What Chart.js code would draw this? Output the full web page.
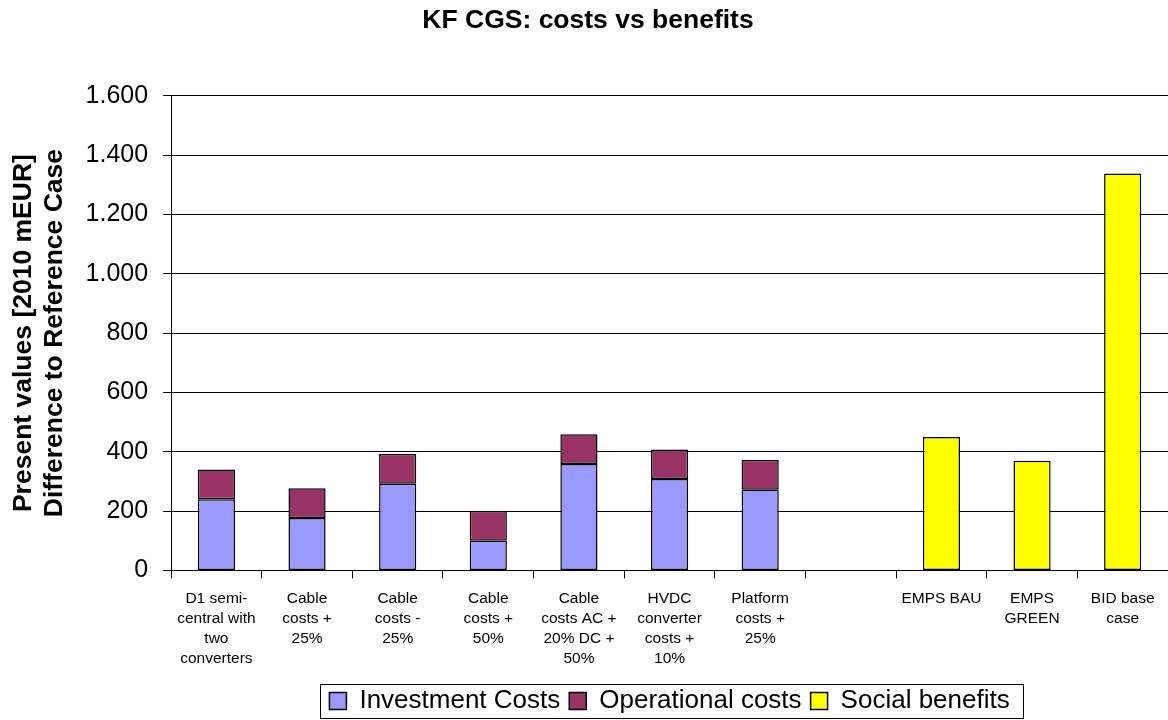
<!DOCTYPE html>
<html>
<head>
<meta charset="utf-8">
<script src="https://cdn.jsdelivr.net/npm/chart.js@4/dist/chart.umd.min.js"></script>
<style>
  html, body { margin: 0; padding: 0; background: #fff; }
  #wrap { width: 1168px; height: 720px; }
</style>
</head>
<body>
<div id="wrap"><canvas id="kfChart" width="1168" height="720"></canvas></div>
<script>
// categories (x axis), multi-line as in the original sheet
var categories = [
    ['D1 semi-', 'central with', 'two', 'converters'],
    ['Cable', 'costs +', '25%'],
    ['Cable', 'costs -', '25%'],
    ['Cable', 'costs +', '50%'],
    ['Cable', 'costs AC +', '20% DC +', '50%'],
    ['HVDC', 'converter', 'costs +', '10%'],
    ['Platform', 'costs +', '25%'],
    '',
    ['EMPS BAU'],
    ['EMPS', 'GREEN'],
    ['BID base', 'case']
];

// values in 2010 mEUR
var investmentCosts  = [240, 177, 292, 100, 359, 308, 272, null, null, null, null];
var operationalCosts = [100, 100, 100, 100, 100, 100, 100, null, null, null, null];
var socialBenefits   = [null, null, null, null, null, null, null, null, 450, 370, 1338];

var yTicks = { min: 0, max: 1600, step: 200 };

function fmt(v) {
    // 1600 -> "1.600"
    return String(v).replace(/\B(?=(\d{3})+(?!\d))/g, '.');
}

// draws the box round the legend like excel does
var legendFrame = {
    id: 'legendFrame',
    afterDraw: function(chart) {
        var boxes = chart.legend && chart.legend.legendHitBoxes;
        if (!boxes || !boxes.length) return;
        var l = Infinity, r = -Infinity, cy = 0;
        boxes.forEach(function(b) {
            l = Math.min(l, b.left);
            r = Math.max(r, b.left + b.width);
            cy += b.top + b.height / 2;
        });
        cy = cy / boxes.length;
        var ctx = chart.ctx;
        ctx.save();
        ctx.strokeStyle = '#000';
        ctx.lineWidth = 1;
        ctx.strokeRect(Math.round(l - 9) + 0.5, Math.round(cy - 17) + 0.5, Math.round(r - l + 23), 34);
        ctx.restore();
    }
};

Chart.defaults.font.family = '"Liberation Sans", Arial, sans-serif';
Chart.defaults.color = '#000';

var ctx = document.getElementById('kfChart').getContext('2d');
var chart = new Chart(ctx, {
    type: 'bar',
    data: {
        labels: categories,
        datasets: [{
            label: 'Investment Costs',
            data: investmentCosts,
            backgroundColor: '#9999FF',
            borderColor: '#000',
            borderWidth: 1.5,
            borderSkipped: false
        }, {
            label: 'Operational costs',
            data: operationalCosts,
            backgroundColor: '#993366',
            borderColor: '#000',
            borderWidth: 1.5,
            borderSkipped: false
        }, {
            label: 'Social benefits',
            data: socialBenefits,
            backgroundColor: '#FFFF00',
            borderColor: '#000',
            borderWidth: 1.5,
            borderSkipped: false
        }]
    },
    options: {
        responsive: false,
        animation: false,
        layout: { padding: { left: 8, right: 0, top: 0, bottom: -4 } },
        datasets: {
            bar: { categoryPercentage: 1, barPercentage: 0.41 }
        },
        plugins: {
            title: {
                display: true,
                text: 'KF CGS: costs vs benefits',
                font: { size: 26.5, weight: 'bold' },
                padding: { top: 5, bottom: 59 }
            },
            legend: {
                position: 'bottom',
                fullSize: false,
                labels: {
                    font: { size: 26 },
                    boxWidth: 17,
                    boxHeight: 17,
                    padding: 9
                }
            },
            tooltip: { enabled: false }
        },
        scales: {
            x: {
                stacked: true,
                grid: {
                    display: true,
                    drawOnChartArea: false,
                    offset: true,
                    color: '#000',
                    tickLength: 8
                },
                border: { color: '#000', width: 1 },
                ticks: {
                    font: { size: 15.5, lineHeight: 1.3 },
                    maxRotation: 0,
                    autoSkip: false,
                    padding: 10
                }
            },
            y: {
                stacked: true,
                min: yTicks.min,
                max: yTicks.max,
                grid: { color: '#000', tickLength: 8 },
                border: { color: '#000', width: 1 },
                ticks: {
                    stepSize: yTicks.step,
                    font: { size: 25 },
                    padding: 15,
                    callback: function(v) { return fmt(v); }
                },
                title: {
                    display: true,
                    text: ['Present values [2010 mEUR]', 'Difference to Reference Case'],
                    font: { size: 26.5, weight: 'bold', lineHeight: 1.18 },
                    padding: { top: 0, bottom: 0 }
                }
            }
        }
    },
    plugins: [legendFrame]
});
</script>
</body>
</html>
